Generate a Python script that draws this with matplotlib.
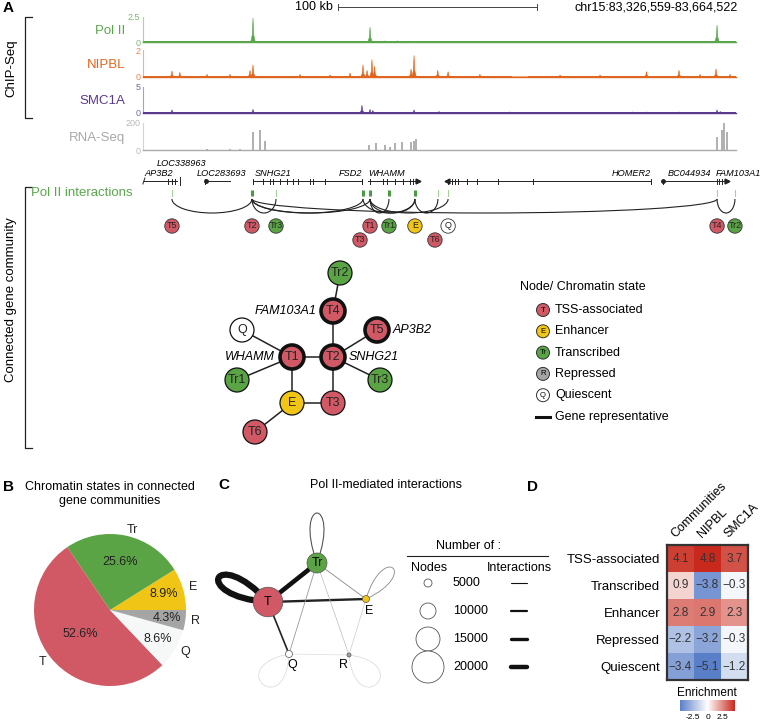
import numpy as np
import matplotlib
matplotlib.use("Agg")
import matplotlib.pyplot as plt
from matplotlib.patches import Circle, Arc, PathPatch
from matplotlib.path import Path
from matplotlib.colors import LinearSegmentedColormap

plt.rcParams['font.family'] = ['Liberation Sans', 'DejaVu Sans']

W, H = 762, 722
REGION_KB = 338.0   # chr15:83,326,559-83,664,522

# ---------------- data ----------------
# signal peaks: position (kb from region start) and height
polii_pos = [16.5, 40.0, 62.7, 100.0, 129.4, 138.0, 145.0, 152.0, 327.2]
polii_val = [0.08, 0.06, 2.4, 0.06, 1.5, 0.12, 0.12, 0.1, 1.7]

nipbl_pos = [16.5, 21.0, 36.5, 49.6, 61.0, 62.7, 89.5, 106.6, 118.0, 125.4, 127.7,
             130.5, 132.0, 152.8, 154.5, 168.0, 173.9, 192.0, 237.7, 260.5, 287.0,
             305.5, 317.5, 326.6, 334.6]
nipbl_val = [0.45, 0.35, 0.2, 0.2, 0.5, 0.9, 0.2, 0.15, 0.3, 0.9, 0.5,
             1.3, 0.8, 0.6, 1.6, 0.5, 0.4, 0.2, 0.15, 0.15, 0.4,
             0.5, 0.2, 0.6, 0.2]
nipbl_gap = (210.9, 218.9)

smc1a_pos = [16.5, 62.7, 124.8, 129.4, 131.0, 154.5, 168.7, 209.0, 279.0, 287.0,
             305.5, 327.2, 329.0]
smc1a_val = [0.6, 0.7, 1.5, 0.7, 0.5, 0.6, 0.3, 0.2, 0.2, 0.2,
             0.2, 0.6, 0.3]

rna_pos = [36.5, 49.6, 55.3, 62.7, 66.7, 69.5, 128.8, 132.8, 138.0, 140.8, 143.6,
           147.6, 152.8, 154.5, 155.6, 327.2, 330.0, 331.2, 332.9]
rna_val = [10, 10, 8, 130, 150, 70, 40, 50, 40, 20, 50,
           60, 60, 70, 80, 100, 150, 200, 130]

# genes (kb)
gene_names = ["AP3B2", "LOC283693", "SNHG21", "FSD2", "WHAMM", "HOMER2", "BC044934", "FAM103A1"]
gene_start = [0.5, 35.3, 62.7, 122.5, 128.2, 173.3, 296.4, 327.2]
gene_end = [19.4, 49.6, 124.8, 124.8, 156.7, 289.5, 327.2, 332.9]
gene_exons = [[14.3, 16.5, 18.2], [35.3], [62.7, 68.4, 72.4, 74.1, 78.1, 82.1, 85.5, 88.4,
              95.2, 97.0, 103.7, 124.8], [124.8], [129.4, 136.8, 139.1, 143.6, 148.2,
              152.2, 153.9], [173.9, 176.1, 177.8, 179.6, 184.7, 190.4, 202.4, 222.3, 289.5],
              [296.4, 327.2], [328.5, 330.0]]

# connected gene community: nodes (anchor in kb) and Pol II interactions
node_names = ["T5", "T2", "Tr3", "T3", "T1", "Tr1", "E", "T6", "Q", "T4", "Tr2"]
node_kb = [16.5, 62.1, 75.8, 125.4, 129.4, 140.2, 155.0, 168.1, 173.9, 327.2, 337.4]
edges = [("T5", "T2"), ("T2", "Tr3"), ("T2", "T3"), ("T2", "T1"), ("T1", "Tr1"),
         ("T1", "E"), ("E", "T3"), ("E", "T6"), ("T1", "Q"), ("T2", "T4"), ("T4", "Tr2")]
gene_reps = {"T4": "FAM103A1", "T5": "AP3B2", "T1": "WHAMM", "T2": "SNHG21"}

# panel B
pie_labels = ["E", "Tr", "T", "Q", "R"]
pie_values = [8.9, 25.6, 52.6, 8.6, 4.3]

# panel C
state_names = ["T", "Tr", "E", "Q", "R"]
state_nodes = [18500, 12500, 4400, 4400, 2500]
legend_counts = [5000, 10000, 15000, 20000]

# panel D
hm_rows = ["TSS-associated", "Transcribed", "Enhancer", "Repressed", "Quiescent"]
hm_cols = ["Communities", "NIPBL", "SMC1A"]
hm_vals = np.array([[4.1, 4.8, 3.7],
                    [0.9, -3.8, -0.3],
                    [2.8, 2.9, 2.3],
                    [-2.2, -3.2, -0.3],
                    [-3.4, -5.1, -1.2]])

# ---------------- styles ----------------
C_T, C_TR, C_E, C_R, C_Q = "#d15965", "#5aa445", "#f1c515", "#a5a5a5", "#f6f8f8"
STATE_COL = {"T": C_T, "Tr": C_TR, "E": C_E, "R": C_R, "Q": "white"}
GREEN = "#5aa64b"
TX0, TX1 = 143, 736


def box(x0, y0, x1, y1):
    return [x0 / W, 1 - y1 / H, (x1 - x0) / W, (y1 - y0) / H]


def gx(kb):
    return TX0 + kb / REGION_KB * (TX1 - TX0)


def state_of(name):
    return name.rstrip("0123456789")


fig = plt.figure(figsize=(W / 100, H / 100), dpi=100)
ax = fig.add_axes([0, 0, 1, 1])
ax.set_xlim(0, W)
ax.set_ylim(H, 0)
ax.axis('off')

# ---------------- panel A: tracks ----------------
tracks = [("Pol II", polii_pos, polii_val, 2.5, "2.5", "#5aa64b", 17, 42),
          ("NIPBL", nipbl_pos, nipbl_val, 2.0, "2", "#e0661f", 50, 77),
          ("SMC1A", smc1a_pos, smc1a_val, 5.0, "5", "#5b3a8e", 87, 113),
          ("RNA-Seq", rna_pos, rna_val, 200, "200", "#a9a9a9", 123, 150)]
for name, pos, val, ymax, ylab, col, y0, y1 in tracks:
    t = fig.add_axes(box(TX0, y0, TX1, y1))
    t.set_xlim(0, REGION_KB)
    t.set_ylim(0, ymax)
    t.patch.set_alpha(0)
    for s in ["top", "right"]:
        t.spines[s].set_visible(False)
    t.spines["left"].set_color(col)
    t.spines["left"].set_alpha(0.5)
    t.spines["bottom"].set_color(col)
    t.spines["bottom"].set_linewidth(1.0)
    t.set_xticks([])
    t.set_yticks([0, ymax])
    t.set_yticklabels(["0", ylab])
    t.tick_params(axis='y', length=0, pad=2, labelsize=6.5, labelcolor=col)
    for lab in t.get_yticklabels():
        lab.set_alpha(0.8)
    if name == "RNA-Seq":
        t.vlines(pos, 0, val, color=col, lw=1.3)
    else:
        base = ymax * 0.03
        if name == "NIPBL":
            t.fill_between([0, nipbl_gap[0]], 0, base, color=col, lw=0)
            t.fill_between([nipbl_gap[1], REGION_KB], 0, base, color=col, lw=0)
            t.plot(nipbl_gap, [0.02, 0.02], color="#f3b58e", lw=1.5)
        else:
            t.fill_between([0, REGION_KB], 0, base, color=col, lw=0)
        for p, h in zip(pos, val):
            t.fill([p - 1.3, p - 0.4, p, p + 0.4, p + 1.3], [0, h * 0.3, h, h * 0.3, 0],
                   color=col, lw=0.4)
    ax.text(125, (y0 + y1) / 2 + 1, name, ha='right', va='center', fontsize=9.5,
            color=col)

# scale bar and coordinates
ax.text(3, 8, "A", fontsize=11, fontweight='bold', va='center')
ax.text(295, 7, "100 kb", fontsize=9, va='center')
ax.plot([338, 537], [7, 7], color="#444", lw=0.7)
ax.plot([338, 338], [4, 10], color="#444", lw=0.7)
ax.plot([537, 537], [4, 10], color="#444", lw=0.7)
ax.text(738, 7, "chr15:83,326,559-83,664,522", fontsize=9, ha='right', va='center')

# brackets
for (b0, b1, label, ty) in [(17, 118, "ChIP-Seq", 68), (187, 448, "Connected gene community", 300)]:
    ax.plot([32, 25, 25, 32], [b0, b0, b1, b1], color="#222", lw=0.9)
    ax.text(11, ty, label, rotation=90, ha='center', va='center', fontsize=9.5)

# genes
GY = 181
for gi, (nm, s, e, ex) in enumerate(zip(gene_names, gene_start, gene_end, gene_exons)):
    ax.plot([gx(s), gx(e)], [GY, GY], color="#222", lw=0.7)
    for x in ex:
        ax.plot([gx(x), gx(x)], [GY - 2.5, GY + 2.5], color="#222", lw=0.7)
ax.plot([gx(0.5) - 1, gx(0.5) + 1], [GY + 3, GY - 3], color="#222", lw=0.7)
ax.plot([gx(156.7)], [GY], marker='>', ms=3.5, color="#222")
ax.plot([gx(173.3)], [GY], marker='<', ms=3.5, color="#222")
ax.plot([gx(332.9)], [GY], marker='>', ms=3.5, color="#222")
ax.plot([gx(36.0), gx(296.4)], [GY, GY], ls='none', marker='o', ms=2.5, color="#222")
ax.plot([gx(21.0), gx(21.0)], [177, 185], color="#222", lw=0.7)
gl_style = dict(fontsize=6.6, style='italic', va='center')
ax.text(gx(9.0), 173.5, "AP3B2", ha='center', **gl_style)
ax.text(182, 164, "LOC338963", ha='center', **gl_style)
ax.text(gx(45.0), 173.5, "LOC283693", ha='center', **gl_style)
ax.text(gx(63.5), 173.5, "SNHG21", ha='left', **gl_style)
ax.text(gx(124.8), 173.5, "FSD2", ha='right', **gl_style)
ax.text(gx(128.2), 173.5, "WHAMM", ha='left', **gl_style)
ax.text(gx(289.5), 173.5, "HOMER2", ha='right', **gl_style)
ax.text(gx(299.0), 173.5, "BC044934", ha='left', **gl_style)
ax.text(gx(326.5), 173.5, "FAM103A1", ha='left', **gl_style)

# Pol II interactions
ax.text(31, 193, "Pol II interactions", color=GREEN, fontsize=9.5, va='center')
kb_of = dict(zip(node_names, node_kb))
thick_anchor = {"T2", "T3", "T1", "Tr1", "E"}
for nm, kb in zip(node_names, node_kb):
    if nm in thick_anchor:
        ax.plot([gx(kb), gx(kb)], [190, 196], color="#4d9a45", lw=2.2, solid_capstyle='butt')
    else:
        ax.plot([gx(kb), gx(kb)], [190, 196], color="#a6d09c", lw=0.8)
for a, b in edges:
    xa, xb = gx(kb_of[a]), gx(kb_of[b])
    ax.add_patch(Arc(((xa + xb) / 2, 199), abs(xb - xa), 28, theta1=0, theta2=180,
                     color="#222", lw=0.8))
lower = {"T3", "T6"}
for nm, kb in zip(node_names, node_kb):
    y = 240 if nm in lower else 226
    x = gx(kb) - (3 if nm in lower else 0)
    ax.add_patch(Circle((x, y), 7.2, fc=STATE_COL[state_of(nm)], ec="#333", lw=0.6, zorder=5))
    ax.text(x, y, nm, fontsize=6.5, ha='center', va='center', zorder=6, color="#222")

# network layout (px)
net_layout = {"Tr2": (340, 273), "T4": (333, 311), "Q": (242, 330), "T5": (377, 330),
              "T1": (292, 357), "T2": (333, 357), "Tr1": (237, 380), "Tr3": (380, 380),
              "E": (292, 403), "T3": (333, 403), "T6": (255, 432)}
for a, b in edges:
    (x0, y0), (x1, y1) = net_layout[a], net_layout[b]
    ax.plot([x0, x1], [y0, y1], color="#222", lw=1.1, zorder=2)
for nm, (x, y) in net_layout.items():
    rep = nm in gene_reps
    ax.add_patch(Circle((x, y), 12, fc=STATE_COL[state_of(nm)], ec="#111",
                        lw=2.6 if rep else 0.9, zorder=5))
    ax.text(x, y, nm, fontsize=9, ha='center', va='center', zorder=6, color="#222")
for nm, gname in gene_reps.items():
    x, y = net_layout[nm]
    left = nm in ("T4", "T1")
    ax.text(x - 17 if left else x + 16, y, gname, ha='right' if left else 'left',
            va='center', fontsize=9, style='italic')

# legend A
ax.text(520, 287, "Node/ Chromatin state", fontsize=9, va='center')
leg_items = [("T", "TSS-associated", C_T), ("E", "Enhancer", C_E), ("Tr", "Transcribed", C_TR),
             ("R", "Repressed", C_R), ("Q", "Quiescent", "white")]
for i, (s, lab, c) in enumerate(leg_items):
    y = 310 + i * 21.3
    ax.add_patch(Circle((543, y), 6.5, fc=c, ec="#333", lw=0.7))
    ax.text(543, y, s, fontsize=5.5, ha='center', va='center')
    ax.text(555, y, lab, fontsize=9, va='center')
ax.plot([536, 550], [417, 417], color="#111", lw=2.2)
ax.text(555, 417, "Gene representative", fontsize=9, va='center')

# ---------------- panel B ----------------
ax.text(3, 487, "B", fontsize=11, fontweight='bold', va='center')
ax.text(110, 494, "Chromatin states in connected\ngene communities", fontsize=9,
        ha='center', va='center', linespacing=1.2)
ap = fig.add_axes(box(110 - 95, 610 - 95, 110 + 95, 610 + 95))
wedges, texts, autotexts = ap.pie(pie_values, labels=pie_labels,
                                  colors=[C_E, C_TR, C_T, C_Q, C_R],
                                  startangle=0, counterclock=True, autopct='%.1f%%',
                                  labeldistance=1.08, pctdistance=0.7,
                                  textprops=dict(fontsize=9, color="#222"),
                                  wedgeprops=dict(lw=0))
ap.set_xlim(-1.25, 1.25)
ap.set_ylim(-1.25, 1.25)
for w, at, r in zip(wedges, autotexts, [0.74, 0.64, 0.5, 0.73, 0.75]):
    th = np.radians((w.theta1 + w.theta2) / 2)
    at.set_position((r * np.cos(th), r * np.sin(th)))

# ---------------- panel C ----------------
ax.text(218, 485, "C", fontsize=11, fontweight='bold', va='center')
ax.text(386, 485, "Pol II-mediated interactions", fontsize=9, ha='center', va='center')
c_layout = {"T": (268, 602), "Tr": (317, 563), "E": (366, 599), "Q": (289, 654), "R": (349, 655)}
c_edges = [("T", "Tr", 3.3, "#111"), ("T", "E", 1.7, "#222"), ("T", "Q", 1.2, "#222"),
           ("Tr", "E", 0.6, "#888"), ("Tr", "Q", 0.6, "#999"), ("Tr", "R", 0.5, "#bbb"),
           ("E", "R", 0.5, "#ccc"), ("Q", "R", 0.5, "#ddd")]
for a, b, lw, c in c_edges:
    (x0, y0), (x1, y1) = c_layout[a], c_layout[b]
    ax.plot([x0, x1], [y0, y1], color=c, lw=lw, zorder=2)


def self_loop(x, y, ang, length, width, **kw):
    d = np.array([np.cos(np.radians(ang)), np.sin(np.radians(ang))])
    n = np.array([-d[1], d[0]])
    p0 = np.array([x, y])
    h = width / 0.577
    p1 = p0 + d * length * 1.333 + n * h
    p2 = p0 + d * length * 1.333 - n * h
    ax.add_patch(PathPatch(Path([p0, p1, p2, p0], [Path.MOVETO, Path.CURVE4, Path.CURVE4, Path.CURVE4]),
                           fill=False, zorder=2, **kw))


c_loops = {"T": (-154, 55, 17, 4.5, "#111"), "Tr": (-90, 50, 14, 0.8, "#555"),
           "E": (-49, 41, 14, 0.6, "#888"), "Q": (131, 40, 24, 0.6, "#ddd"),
           "R": (46, 40, 24, 0.6, "#ddd")}
for nm, (ang, L, wd, lw, c) in c_loops.items():
    self_loop(*c_layout[nm], ang, L, wd, color=c, lw=lw)
for nm, cnt in zip(state_names, state_nodes):
    x, y = c_layout[nm]
    ax.add_patch(Circle((x, y), cnt / 5000 * 4, fc=STATE_COL[nm], ec="#555", lw=0.5, zorder=5))
ax.text(268, 602, "T", fontsize=9, ha='center', va='center', zorder=6)
ax.text(317, 563, "Tr", fontsize=9, ha='center', va='center', zorder=6)
ax.text(369, 611, "E", fontsize=9, ha='center', va='center')
ax.text(292, 665, "Q", fontsize=9, ha='center', va='center')
ax.text(343, 665, "R", fontsize=9, ha='center', va='center')

ax.text(468, 546, "Number of :", fontsize=9, ha='center', va='center')
ax.plot([407, 548], [556, 556], color="#222", lw=0.8)
ax.text(411, 568, "Nodes", fontsize=9, va='center')
ax.text(487, 568, "Interactions", fontsize=9, va='center')
for i, cnt in enumerate(legend_counts):
    y = 583 + i * 28
    ax.add_patch(Circle((428, y), cnt / 5000 * 4, fc='white', ec="#555", lw=0.6))
    ax.text(453, y, str(cnt), fontsize=9, va='center')
    ax.plot([511, 527], [y, y], color="#111", lw=0.8 * (i + 1), solid_capstyle='round')

# ---------------- panel D ----------------
ax.text(527, 487, "D", fontsize=11, fontweight='bold', va='center')
cmap = LinearSegmentedColormap.from_list("enr", ["#5a7fc9", "#ffffff", "#c8291c"])
ah = fig.add_axes(box(667, 545, 748, 680))
im = ah.imshow(hm_vals, cmap=cmap, vmin=-4.6, vmax=4.6, aspect='auto')
for i in range(hm_vals.shape[0]):
    for j in range(hm_vals.shape[1]):
        ah.text(j, i, f"{hm_vals[i, j]:.1f}".replace("-", "\u2212"), ha='center',
                va='center', fontsize=8.5, color="#333")
ah.set_xticks([])
ah.set_yticks(range(len(hm_rows)))
ah.set_yticklabels(hm_rows, fontsize=9.5)
ah.tick_params(axis='y', length=0, pad=5)
for s in ah.spines.values():
    s.set_linewidth(1.6)
    s.set_color("#333")
for j, lab in enumerate(hm_cols):
    ax.text(677 + j * 27, 540, lab, rotation=45, rotation_mode='anchor', ha='left',
            va='bottom', fontsize=9)
ac = fig.add_axes(box(680, 700, 735, 711))
cb = fig.colorbar(im, cax=ac, orientation='horizontal', ticks=[-2.5, 0, 2.5])
cb.outline.set_visible(False)
cb.ax.set_xticklabels(["-2.5", "0", "2.5"])
cb.ax.tick_params(length=0, labelsize=6, pad=2)
ax.text(707, 693, "Enrichment", fontsize=8.5, ha='center', va='center')

fig.savefig("out.png", dpi=100)
